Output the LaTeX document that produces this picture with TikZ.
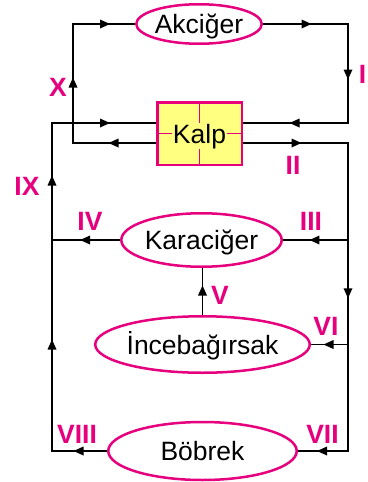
\documentclass[tikz,border=0pt]{standalone}
\usepackage{fontspec}
\setmainfont{Liberation Sans}
\usetikzlibrary{shapes.geometric,decorations.markings,backgrounds}
\definecolor{mag}{RGB}{230,0,126}
\definecolor{kalpy}{RGB}{255,255,128}
\begin{document}
\begin{tikzpicture}[x=1pt,y=-1pt,
  line/.style={draw=black,line width=1.2pt,line cap=rect},
  midtri/.style={postaction={decorate},decoration={markings,mark=at position 0.5 with {\fill[black] (6pt,0pt) -- (-4pt,4.5pt) -- (-4pt,-4.5pt) -- cycle;}}},
  organ/.style={ellipse,draw=mag,line width=2.5pt,fill=white,inner sep=0pt,font=\fontsize{26.5}{30}\selectfont,text height=19pt,text depth=0pt},
  lbl/.style={text=mag,font=\fontsize{26.5}{30}\selectfont\bfseries,inner sep=0pt,anchor=center}]
\useasboundingbox (0,0) rectangle (367,482);

% organs
\node[organ,minimum width=125.5pt,minimum height=39.5pt] (akc) at (199,24) {Akciğer};
\node[organ,minimum width=146.5pt,minimum height=53.5pt] (kar) at (201.5,240) {Karaciğer};
\node[organ,minimum width=188.5pt,minimum height=56.5pt] (inc) at (202.5,344.5) {İncebağırsak};
\node[organ,minimum width=188.5pt,minimum height=58pt] (bob) at (202.5,451) {Böbrek};

% heart
\node[draw=mag,line width=2.5pt,fill=kalpy,minimum width=84.5pt,minimum height=62.5pt,inner sep=0pt] (kalp) at (199.5,133.5) {};
\draw[mag,line width=1.2pt] (kalp.north) -- (kalp.south);
\draw[mag,line width=1.2pt] (kalp.west) -- (kalp.east);
\node[fill=kalpy,inner sep=0.6pt,anchor=base,font=\fontsize{26.5}{30}\selectfont] (kalptxt) at (199.5,143) {Kalp};

\coordinate (kl1) at ([yshift=10.5pt]kalp.west);
\coordinate (kl2) at ([yshift=-9.5pt]kalp.west);
\coordinate (kr1) at ([yshift=10.5pt]kalp.east);
\coordinate (kr2) at ([yshift=-9.5pt]kalp.east);
\coordinate (xm) at (73,0);
\coordinate (xl) at (52,0);
\coordinate (xr) at (348,0);

\begin{pgfonlayer}{background}
% heart -> lung -> heart
\draw[line,midtri] (kl2) -- (kl2 -| xm);
\draw[line,midtri] (kl2 -| xm) -- (akc.west -| xm);
\draw[line,midtri] (akc.west -| xm) -- (akc.west);
\draw[line,midtri] (akc.east) -- (akc.east -| xr);
\draw[line,midtri] (akc.east -| xr) -- (kr1 -| xr);
\draw[line,midtri] (kr1 -| xr) -- (kr1);
% aorta
\draw[line,midtri] (kr2) -- (kr2 -| xr);
\draw[line] (kr2 -| xr) -- (kar.east -| xr);
\draw[line,midtri] (kar.east -| xr) -- (inc.east -| xr);
\draw[line] (inc.east -| xr) -- (bob.east -| xr);
\draw[line,midtri] (kar.east -| xr) -- (kar.east);
\draw[line,midtri] (inc.east -| xr) -- (inc.east);
\draw[line,midtri] (bob.east -| xr) -- (bob.east);
% veins
\draw[line,midtri] (bob.west) -- (bob.west -| xl);
\draw[line,midtri] (bob.west -| xl) -- (kar.west -| xl);
\draw[line,midtri] (kar.west -| xl) -- (kl1 -| xl);
\draw[line,midtri] (kl1 -| xl) -- (kl1);
\draw[line,midtri] (kar.west) -- (kar.west -| xl);
\draw[line,midtri] (inc.north) -- (inc.north |- kar.south);
\end{pgfonlayer}

% labels
\node[lbl] (lI) at (362.5,74) {I};
\node[lbl] (lII) at (293,165) {II};
\node[lbl] (lIII) at (311,221) {III};
\node[lbl] (lIV) at (90,221) {IV};
\node[lbl] (lV) at (220,295) {V};
\node[lbl] (lVI) at (326,326) {VI};
\node[lbl] (lVII) at (322.5,434) {VII};
\node[lbl] (lVIII) at (77,434) {VIII};
\node[lbl] (lIX) at (27,186) {IX};
\node[lbl] (lX) at (58,87) {X};
\end{tikzpicture}
\end{document}
